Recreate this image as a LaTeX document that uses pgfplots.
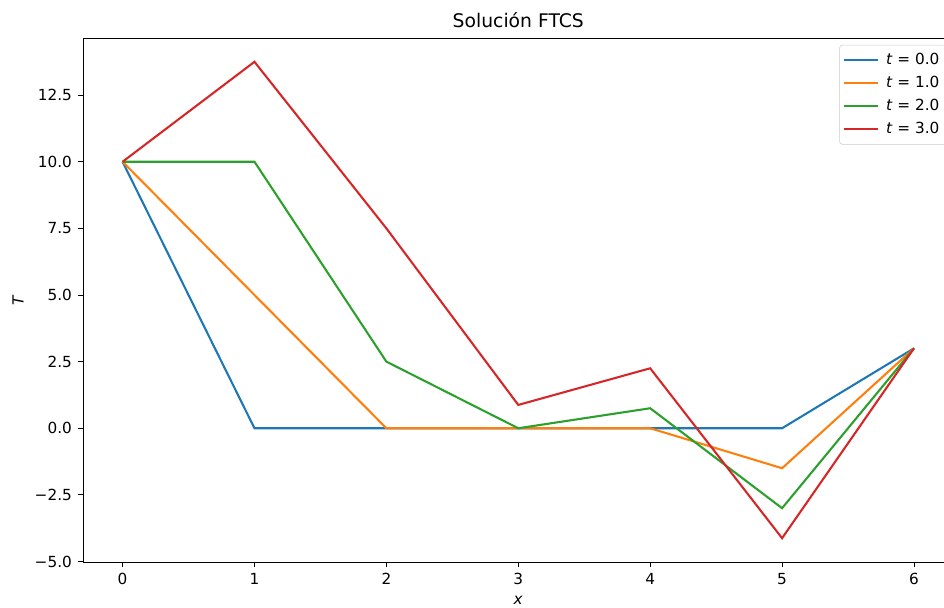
\documentclass[border=0pt]{standalone}
\usepackage{fontspec}
\setmainfont{DejaVu Sans}
\usepackage{pgfplots}
\pgfplotsset{compat=1.18}
\definecolor{c0}{HTML}{1F77B4}
\definecolor{c1}{HTML}{FF7F0E}
\definecolor{c2}{HTML}{2CA02C}
\definecolor{c3}{HTML}{D62728}
\begin{document}
\begin{tikzpicture}
\begin{axis}[
  scale only axis,
  width=626.8pt, height=377.3pt,
  xmin=-0.3, xmax=6.3,
  ymin=-5.019, ymax=14.644,
  xtick={0,1,2,3,4,5,6},
  ytick={-5,-2.5,0,2.5,5,7.5,10,12.5},
  yticklabels={−5.0,−2.5,0.0,2.5,5.0,7.5,10.0,12.5},
  tick align=outside,
  major tick length=3.5pt,
  tick style={black, line width=0.6pt},
  axis line style={line width=0.6pt},
  xtick pos=bottom, ytick pos=left,
  /pgf/number format/assume math mode=true,
  ticklabel style={font=\fontsize{11}{13}\selectfont},
  xticklabel style={yshift=-1pt},
  yticklabel style={xshift=-1pt},
  title={Solución FTCS},
  title style={at={(axis description cs:0.5,1.0305)}, anchor=center, yshift=-5pt, font=\fontsize{13.5}{16}\selectfont},
  xlabel={\textit{x}},
  ylabel={\textit{T}},
  xlabel style={at={(axis description cs:0.5,-0.0726)}, anchor=center, font=\fontsize{11}{13}\selectfont},
  ylabel style={at={(axis description cs:-0.0747,0.5)}, anchor=center, rotate=0, font=\fontsize{11}{13}\selectfont},
  legend style={at={(1,1)}, anchor=north east, xshift=-5pt, yshift=-5pt,
    draw=black!20, rounded corners=2pt, fill=white, fill opacity=0.8, text opacity=1,
    font=\fontsize{11}{13}\selectfont, row sep=2.9pt, inner xsep=3pt, inner ysep=4pt},
  legend cell align=left,
  legend image code/.code={\draw[#1, line cap=rect] (0pt,0pt) -- (23pt,0pt); \path (27pt,0pt);},
]
\addplot[c0, line width=1.5pt] coordinates {(0,10) (1,0) (2,0) (3,0) (4,0) (5,0) (6,3)};
\addlegendentry{\textit{t} = 0.0}
\addplot[c1, line width=1.5pt] coordinates {(0,10) (1,5) (2,0) (3,0) (4,0) (5,-1.5) (6,3)};
\addlegendentry{\textit{t} = 1.0}
\addplot[c2, line width=1.5pt] coordinates {(0,10) (1,10) (2,2.5) (3,0) (4,0.75) (5,-3) (6,3)};
\addlegendentry{\textit{t} = 2.0}
\addplot[c3, line width=1.5pt] coordinates {(0,10) (1,13.75) (2,7.5) (3,0.875) (4,2.25) (5,-4.125) (6,3)};
\addlegendentry{\textit{t} = 3.0}
\end{axis}
\pgfresetboundingbox
\path[use as bounding box] ([xshift=-59.76pt,yshift=-32.4pt]current axis.south west) rectangle ++(679.68pt,437.04pt);
\end{tikzpicture}
\end{document}
